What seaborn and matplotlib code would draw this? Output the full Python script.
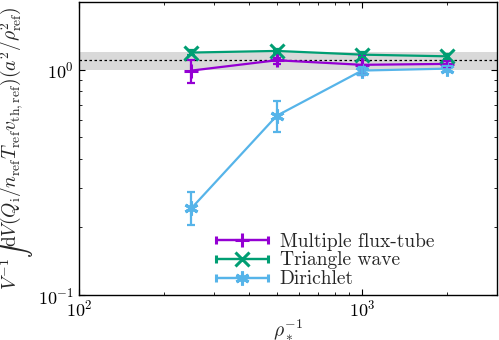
import numpy as np
import pandas as pd
import matplotlib
matplotlib.use("Agg")
import matplotlib.pyplot as plt
import seaborn as sns
from matplotlib.container import ErrorbarContainer
from matplotlib.legend_handler import HandlerErrorbar
from matplotlib.ticker import LogLocator, NullFormatter

# ---- data ----
rho_inv = [250, 500, 1000, 2000]
series_names = ["Multiple flux-tube", "Triangle wave", "Dirichlet"]
mft_val = [0.99, 1.10, 1.05, 1.06]
mft_err_lo = [0.115, 0.037, 0.10, 0.03]
mft_err_hi = [0.118, 0.03, 0.10, 0.03]
tri_val = [1.19, 1.21, 1.165, 1.145]
tri_err_lo = [0.03, 0.03, 0.03, 0.03]
tri_err_hi = [0.03, 0.03, 0.03, 0.03]
dir_val = [0.243, 0.624, 0.99, 1.01]
dir_err_lo = [0.038, 0.095, 0.04, 0.03]
dir_err_hi = [0.043, 0.104, 0.04, 0.03]
ref_line = 1.1
ref_band = [1.0, 1.2]

colors = {"Multiple flux-tube": "#9400D3", "Triangle wave": "#009E73", "Dirichlet": "#56B4E9"}
markers = {"Multiple flux-tube": "+", "Triangle wave": "x", "Dirichlet": (6, 2, 0)}

sns.set_style("ticks")
plt.rcParams.update({
    "font.family": "serif",
    "font.serif": ["cmr10"],
    "mathtext.fontset": "cm",
    "axes.formatter.use_mathtext": True,
    "font.size": 12,
    "axes.edgecolor": "black",
    "axes.linewidth": 1.0,
    "xtick.color": "black",
    "ytick.color": "black",
    "xtick.direction": "in",
    "ytick.direction": "in",
    "xtick.top": True,
    "ytick.right": True,
    "xtick.minor.visible": True,
    "ytick.minor.visible": True,
})

df = pd.DataFrame({
    "rho": rho_inv * 3,
    "val": mft_val + tri_val + dir_val,
    "series": sum([[n] * len(rho_inv) for n in series_names], []),
})

fig = plt.figure(figsize=(4.99, 3.40), dpi=100)
ax = fig.add_axes([0.158, 0.132, 0.838, 0.863])
ax.set_xscale("log")
ax.set_yscale("log")

ax.axhspan(ref_band[0], ref_band[1], color="#d9d9d9", zorder=0, lw=0)
ax.axhline(ref_line, color="black", ls=(0, (2, 2)), lw=0.9, zorder=1)

sns.lineplot(data=df, x="rho", y="val", hue="series", style="series",
             palette=colors, markers=markers, dashes=False, legend=False,
             lw=1.6, markersize=10, markeredgewidth=2.2, ax=ax, zorder=3)
for ln in ax.get_lines():
    ln.set_markeredgecolor(ln.get_color())
    ln.set_markerfacecolor(ln.get_color())

errs = [(mft_val, mft_err_lo, mft_err_hi), (tri_val, tri_err_lo, tri_err_hi),
        (dir_val, dir_err_lo, dir_err_hi)]
handles = []
for name, (v, lo, hi) in zip(series_names, errs):
    ax.errorbar(rho_inv, v, yerr=[lo, hi], fmt="none", ecolor=colors[name],
                elinewidth=1.6, capsize=3, capthick=1.6, zorder=3)
    h = ax.errorbar([np.nan], [np.nan], xerr=[1], fmt="-", marker=markers[name],
                    color=colors[name], mec=colors[name], lw=1.6, ms=10, mew=2.2,
                    capsize=3, capthick=1.6, label=name)
    handles.append(h)

ax.set_xlim(100, 3000)
ax.set_ylim(0.1, 2.0)
ax.xaxis.set_minor_locator(LogLocator(base=10, subs=np.arange(2, 10)))
ax.yaxis.set_minor_locator(LogLocator(base=10, subs=np.arange(2, 10)))
ax.xaxis.set_minor_formatter(NullFormatter())
ax.yaxis.set_minor_formatter(NullFormatter())
ax.tick_params(which="major", length=4, width=0.8, labelsize=13)
ax.tick_params(which="minor", length=2.5, width=0.6)
ax.tick_params(axis="x", which="major", pad=2.5)

ax.set_xlabel(r"$\rho_*^{-1}$", labelpad=-1, fontsize=14)
ax.set_ylabel(r"$V^{-1}\int\mathrm{d}V(Q_\mathrm{i}/n_\mathrm{ref}T_\mathrm{ref}v_\mathrm{th,ref})(a^2/\rho_\mathrm{ref}^2)$",
              labelpad=2, fontsize=14)

hl = 2.7
ax.legend(handles=handles, loc="lower left", bbox_to_anchor=(0.29, -0.03),
          frameon=False, handlelength=hl, handletextpad=0.6, labelspacing=0.05,
          borderpad=0.3, fontsize=14,
          handler_map={ErrorbarContainer: HandlerErrorbar(xerr_size=hl / 2)})

fig.savefig("out.png", dpi=100)
